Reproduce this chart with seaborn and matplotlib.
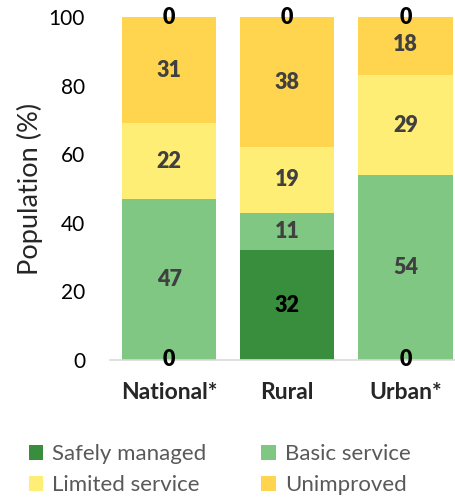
import matplotlib
matplotlib.use("Agg")
import matplotlib.pyplot as plt
import seaborn as sns
import pandas as pd
import numpy as np
from matplotlib.patches import Patch

categories = ["National*", "Rural", "Urban*"]
series_names = ["Safely managed", "Basic service", "Limited service", "Unimproved", "Surface water"]
safely_managed = [0, 32, 0]
basic_service = [47, 11, 54]
limited_service = [22, 19, 29]
unimproved = [31, 38, 18]
surface_water = [0, 0, 0]

colors = ["#388E3C", "#81C784", "#FFEE75", "#FFD54F", "#FFD54F"]
label_colors = ["#000000", "#404040", "#404040", "#404040", "#000000"]

sns.set_theme(style="white")
plt.rcParams["font.family"] = ["Lato", "DejaVu Sans"]

values = [safely_managed, basic_service, limited_service, unimproved, surface_water]
data = np.array(values, dtype=float)
cum = np.cumsum(data, axis=0)

fig = plt.figure(figsize=(4.55, 4.97), dpi=100)
ax = fig.add_axes([110/455, 137/497, 1 - 110/455, 343/497])

# draw cumulative stacks from top to bottom (overlapping)
for i in range(len(series_names) - 2, -1, -1):
    df = pd.DataFrame({"cat": categories, "val": cum[i]})
    sns.barplot(data=df, x="cat", y="val", color=colors[i], saturation=1,
                width=0.8, ax=ax, order=categories, linewidth=0)

# labels
for i in range(len(series_names)):
    for j in range(len(categories)):
        bottom = cum[i][j] - data[i][j]
        center = bottom + data[i][j] / 2
        if i == len(series_names) - 1:
            center = min(center, 100)
        txt = f"{int(data[i][j])}"
        col = label_colors[i]
        if data[i][j] == 0:
            col = "#000000"
        ax.text(j, center, txt, ha="center", va="center", fontsize=15.5,
                fontweight="heavy", color=col, clip_on=False)

ax.set_ylim(0, 100)
ax.set_xlim(-0.5, 2.42)
ax.set_yticks([0, 20, 40, 60, 80, 100])
ax.tick_params(axis="y", labelsize=15, length=0, pad=18, colors="#000000")
ax.tick_params(axis="x", labelsize=16.5, length=0, pad=16)
for lab in ax.get_xticklabels():
    lab.set_fontweight("bold")
ax.set_xlabel("")
ax.set_ylabel("Population (%)", fontsize=19.5, labelpad=4)
for s in ["left", "right", "top"]:
    ax.spines[s].set_visible(False)
ax.spines["bottom"].set_color("#D9D9D9")
ax.spines["bottom"].set_linewidth(1.2)

order = [0, 2, 1, 3]
handles = [Patch(facecolor=colors[k], edgecolor="none") for k in order]
labels = [series_names[k] for k in order]
leg = fig.legend(handles, labels, ncol=2, loc="upper left",
                 bbox_to_anchor=(29/455, 1 - 444/497), frameon=False,
                 fontsize=16, handlelength=0.65, handleheight=0.65,
                 handletextpad=0.4, columnspacing=2.47, labelspacing=0.5,
                 borderpad=0, borderaxespad=0)
for t in leg.get_texts():
    t.set_color("#595959")

fig.savefig("out.png", dpi=100)
